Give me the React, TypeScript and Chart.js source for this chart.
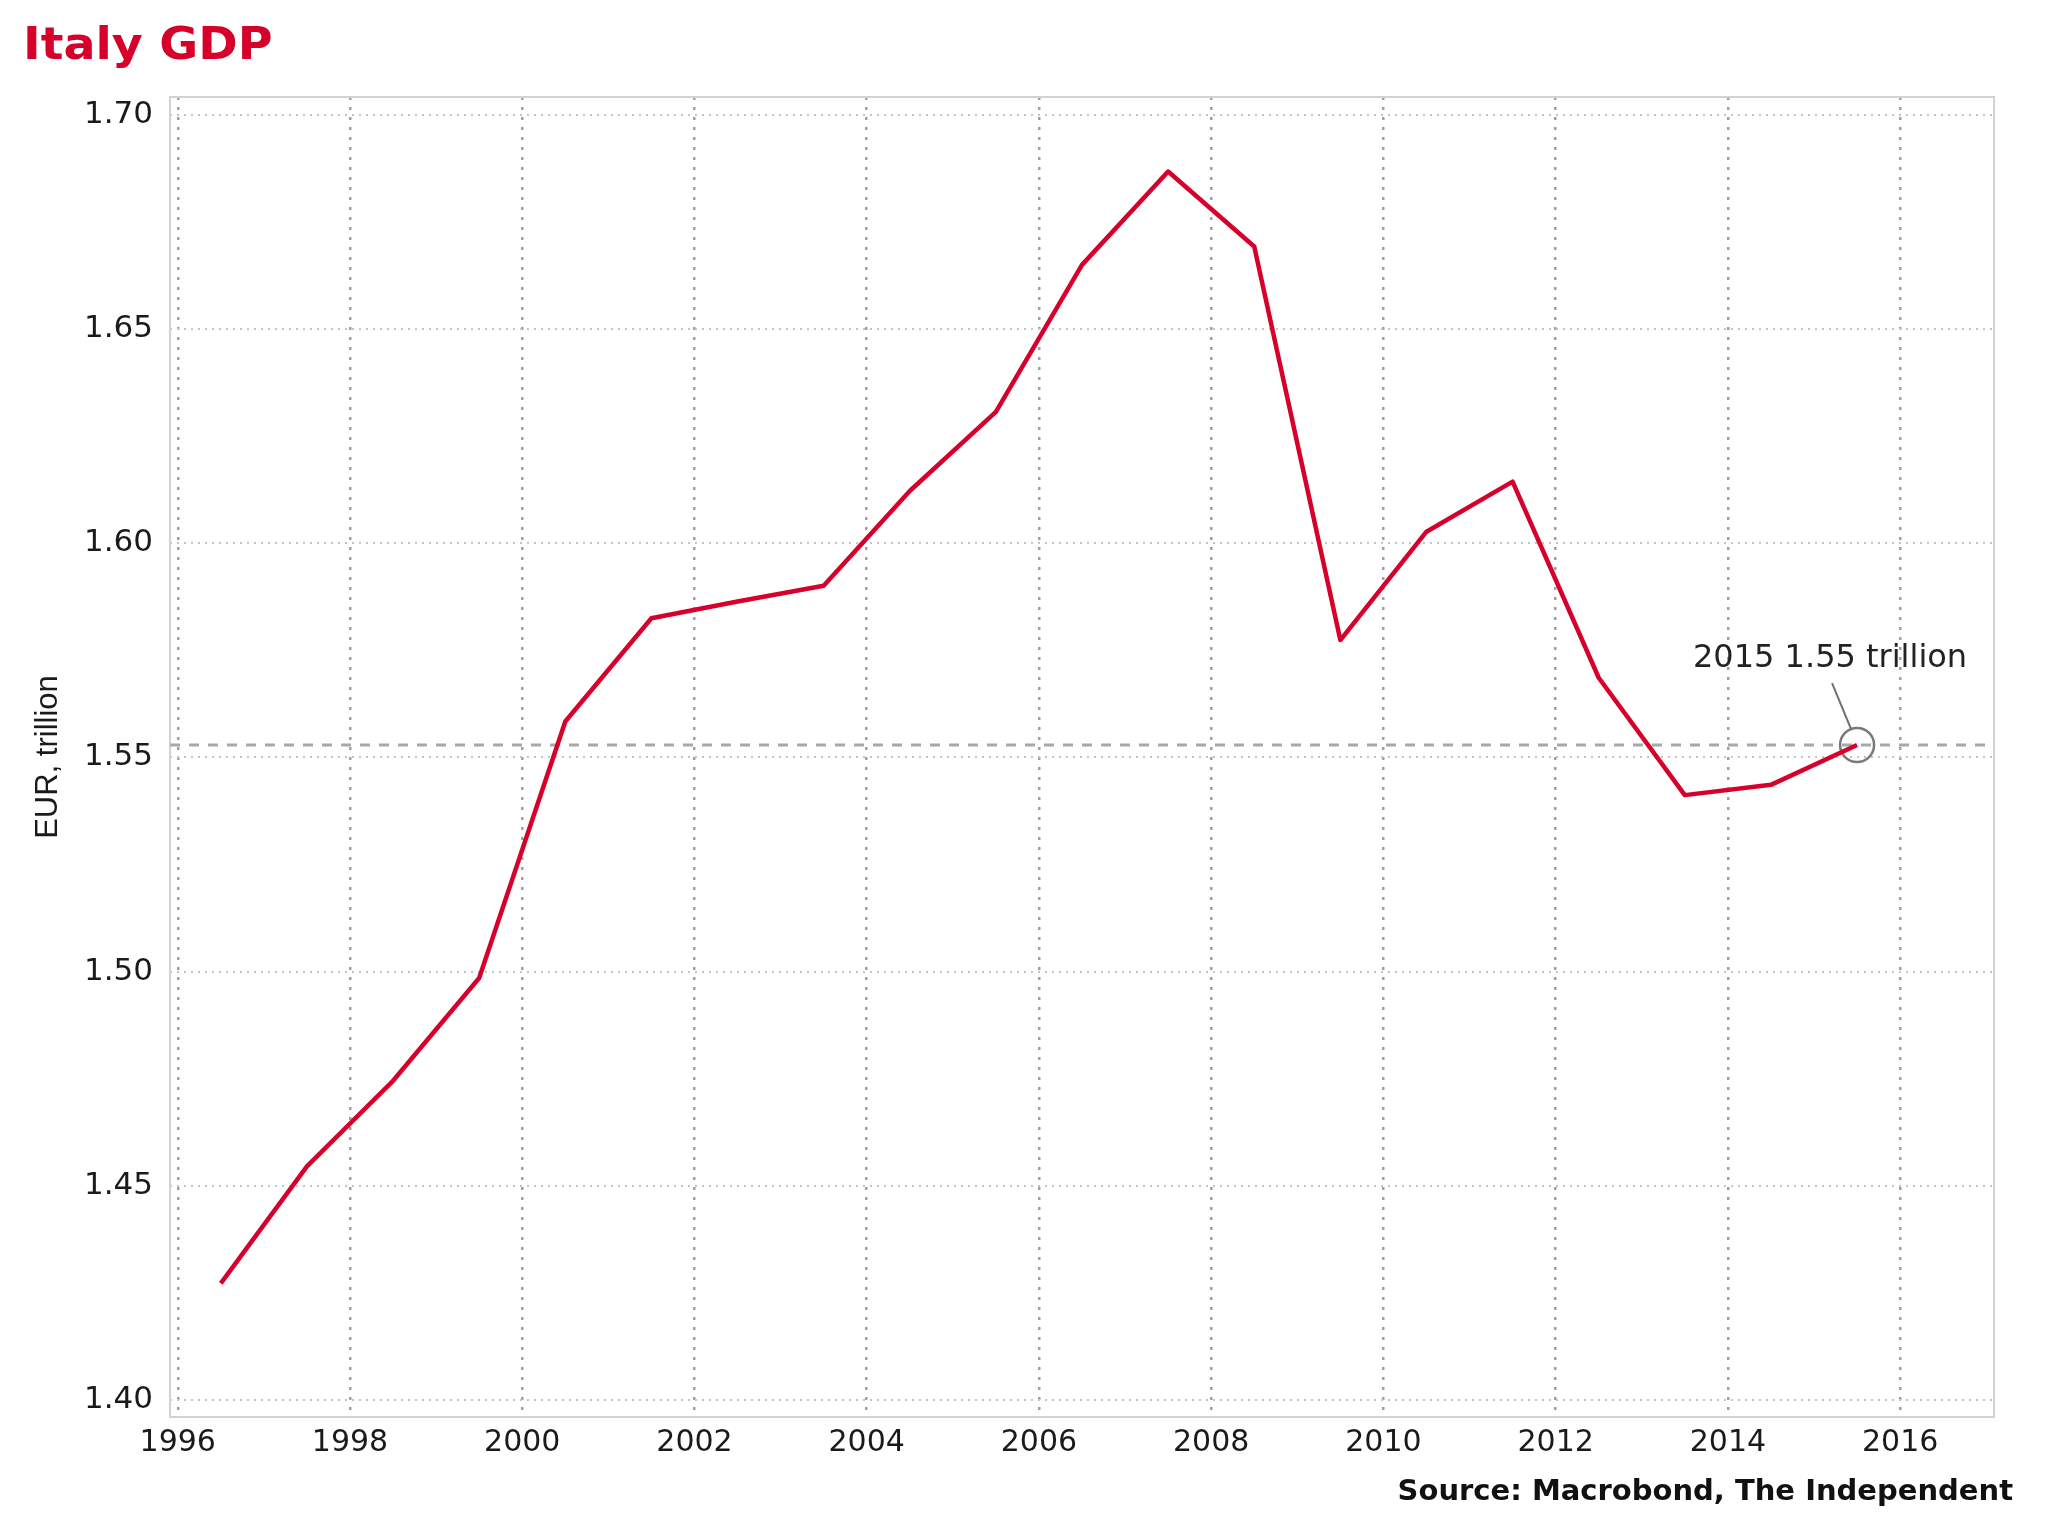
import React, { useEffect, useRef } from "react";
import { Chart, registerables } from "chart.js";

Chart.register(...registerables);

// ---- Text ----
const chartTitle = "Italy GDP";
const sourceNote = "Source: Macrobond, The Independent";
const yAxisTitle = "EUR, trillion";
const annotationLabel = "2015 1.55 trillion";

// ---- Data (annual GDP, EUR trillion, plotted at mid-year) ----
const years = [
  1996, 1997, 1998, 1999, 2000, 2001, 2002, 2003, 2004, 2005,
  2006, 2007, 2008, 2009, 2010, 2011, 2012, 2013, 2014, 2015,
];
const gdpTrillionEur = [
  1.4272, 1.4545, 1.4745, 1.4985, 1.5584, 1.5825, 1.5864, 1.5901, 1.6122, 1.6307,
  1.665, 1.6868, 1.6693, 1.5774, 1.6027, 1.6144, 1.5686, 1.5412, 1.5436, 1.5529,
];

// ---- Axes ----
const xTickYears = [1996, 1998, 2000, 2002, 2004, 2006, 2008, 2010, 2012, 2014, 2016];
const yTickValues = [1.4, 1.45, 1.5, 1.55, 1.6, 1.65, 1.7];
const xRange = [1995.91, 2017.09];
const yRange = [1.396, 1.7042];

const RED = "#d6002b";
const FONT = '"DejaVu Sans"';

const decorPlugin = {
  id: "decor",
  beforeDatasetsDraw(chart: any) {
    const { ctx, chartArea: a } = chart;
    ctx.save();
    ctx.strokeStyle = "#d2d2d2";
    ctx.lineWidth = 2;
    ctx.setLineDash([]);
    ctx.strokeRect(a.left, a.top, a.right - a.left, a.bottom - a.top);
    ctx.restore();
  },
  afterDraw(chart: any) {
    const { ctx, chartArea: a, height } = chart;
    // Title
    ctx.save();
    ctx.fillStyle = RED;
    ctx.font = `bold 44px ${FONT}`;
    ctx.textBaseline = "alphabetic";
    ctx.textAlign = "left";
    ctx.translate(23, 59);
    ctx.scale(1.08, 1);
    ctx.fillText(chartTitle, 0, 0);
    ctx.restore();

    // Source
    ctx.save();
    ctx.fillStyle = "#111";
    ctx.font = `bold 29px ${FONT}`;
    ctx.textAlign = "right";
    ctx.textBaseline = "alphabetic";
    ctx.fillText(sourceNote, a.right + 19, height - 36);
    ctx.restore();

    // Annotation on last point
    const lastIdx = years.length - 1;
    const px = chart.scales.x.getPixelForValue(years[lastIdx] + 0.5);
    const py = chart.scales.y.getPixelForValue(gdpTrillionEur[lastIdx]);
    ctx.save();
    ctx.strokeStyle = "#707070";
    ctx.lineWidth = 2;
    ctx.beginPath();
    ctx.moveTo(px - 25, py - 62);
    ctx.lineTo(px - 6, py - 16);
    ctx.stroke();
    ctx.fillStyle = "#222";
    ctx.font = `32px ${FONT}`;
    ctx.textAlign = "center";
    ctx.textBaseline = "alphabetic";
    ctx.fillText(annotationLabel, px - 27, py - 78);
    ctx.restore();
  },
};

export default function App() {
  const canvasRef = useRef<HTMLCanvasElement | null>(null);

  useEffect(() => {
    const canvas = canvasRef.current;
    if (!canvas) return;
    const lastIdx = years.length - 1;
    const lastValue = gdpTrillionEur[lastIdx];

    const chart = new Chart(canvas, {
      type: "line",
      data: {
        datasets: [
          {
            label: "Italy GDP",
            data: years.map((y, i) => ({ x: y + 0.5, y: gdpTrillionEur[i] })),
            borderColor: RED,
            backgroundColor: RED,
            borderWidth: 4.5,
            pointRadius: 0,
            tension: 0,
            borderJoinStyle: "round",
          },
          {
            label: "marker",
            data: [{ x: years[lastIdx] + 0.5, y: lastValue }],
            showLine: false,
            pointRadius: 17,
            pointStyle: "circle",
            pointBorderColor: "#7a7a7a",
            pointBackgroundColor: "rgba(0,0,0,0)",
            pointBorderWidth: 2.5,
          },
          {
            label: "reference",
            data: [
              { x: xRange[0], y: lastValue },
              { x: xRange[1], y: lastValue },
            ],
            borderColor: "#a8a8a8",
            borderWidth: 3,
            borderDash: [10, 9],
            pointRadius: 0,
          },
        ],
      },
      options: {
        responsive: false,
        animation: false,
        events: [],
        layout: { padding: { top: 97, right: 54, left: 0, bottom: 0 } },
        plugins: {
          legend: { display: false },
          tooltip: { enabled: false },
          title: { display: false },
        },
        scales: {
          x: {
            type: "linear",
            min: xRange[0],
            max: xRange[1],
            afterBuildTicks: (s: any) => {
              s.ticks = xTickYears.map((v) => ({ value: v }));
            },
            afterFit: (s: any) => {
              s.height = 119;
            },
            ticks: {
              autoSkip: false,
              maxRotation: 0,
              padding: 8,
              color: "#1a1a1a",
              font: { family: FONT, size: 30 },
              callback: (v: any) => String(v),
            },
            grid: {
              color: "#a0a0a0",
              lineWidth: 2.5,
              drawTicks: false,
            },
            border: { display: false, dash: [3, 7] },
          },
          y: {
            type: "linear",
            min: yRange[0],
            max: yRange[1],
            afterBuildTicks: (s: any) => {
              s.ticks = yTickValues.map((v) => ({ value: v }));
            },
            afterFit: (s: any) => {
              s.width = 170;
            },
            ticks: {
              padding: 17,
              color: "#1a1a1a",
              font: { family: FONT, size: 31 },
              callback: (v: any) => Number(v).toFixed(2),
            },
            grid: {
              color: "#c4c4c4",
              lineWidth: 2,
              drawTicks: false,
            },
            border: { display: false, dash: [2, 5] },
            title: {
              display: true,
              text: yAxisTitle,
              color: "#1a1a1a",
              font: { family: '"Liberation Sans"', size: 31 },
              padding: { top: 30, bottom: 0 },
            },
          },
        },
      },
      plugins: [decorPlugin],
    });

    return () => chart.destroy();
  }, []);

  return (
    <div style={{ position: "absolute", left: 0, top: 0, width: 2048, height: 1536, background: "#fff" }}>
      <canvas ref={canvasRef} width={2048} height={1536} style={{ display: "block" }} />
    </div>
  );
}
